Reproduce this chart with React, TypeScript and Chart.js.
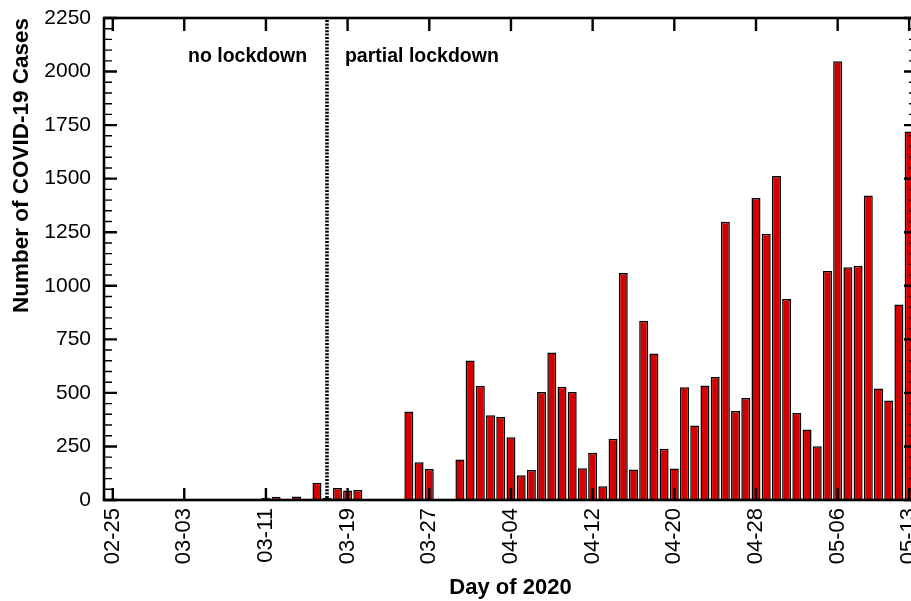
import { useEffect, useRef } from 'react';
import { Chart, registerables } from 'chart.js';

Chart.register(...registerables);

// Daily new COVID-19 cases, one value per day starting 2020-02-25
const startDate = '2020-02-25';
const dailyCases = [
  0, 0, 0, 0, 0, 0, 0, 0, 0, 1,
  0, 4, 0, 0, 2, 11, 15, 0, 16, 0,
  81, 10, 56, 44, 47, 0, 0, 0, 0, 413,
  176, 145, 0, 0, 189, 651, 532, 396, 387, 293,
  115, 140, 504, 688, 529, 504, 148, 220, 64, 286,
  1060, 142, 837, 684, 239, 147, 526, 348, 534, 574,
  1299, 415, 476, 1410, 1243, 1513, 938, 406, 329, 251,
  1069, 2048, 1087, 1094, 1422, 520, 465, 913, 1720,
];

// Day offsets (from the start date) that carry a date label on the x axis
const tickDayIndex = [0, 7, 15, 23, 31, 39, 47, 55, 63, 71, 78];
const tickLabels = ['02-25', '03-03', '03-11', '03-19', '03-27', '04-04', '04-12', '04-20', '04-28', '05-06', '05-13'];

// Phase annotations
const phaseLabels = ['no lockdown', 'partial lockdown'];
const phaseLabelDay = [7.37, 22.74];
const phaseLabelCases = 2046;
const lockdownDay = 21; // 03-17

const yMax = 2250;
const yMajorStep = 250;
const yMinorStep = 50;
const xMin = -0.86;
const xMax = 78.77;

const FONT = '"Liberation Sans", Arial, Helvetica, sans-serif';

function dayLabel(offset: number): string {
  const d = new Date(startDate + 'T00:00:00Z');
  d.setUTCDate(d.getUTCDate() + offset);
  const mm = String(d.getUTCMonth() + 1).padStart(2, '0');
  const dd = String(d.getUTCDate()).padStart(2, '0');
  return `${mm}-${dd}`;
}

function clearScalePadding(scale: any) {
  scale.paddingLeft = 0;
  scale.paddingRight = 0;
  scale.paddingTop = 0;
  scale.paddingBottom = 0;
}

// Draws the boxed frame with inward ticks, the lockdown divider and phase captions
const framePlugin = {
  id: 'boxFrame',
  afterDatasetsDraw(chart: any) {
    const { ctx, chartArea: a, scales } = chart;
    const x = scales.x;
    const y = scales.y;
    ctx.save();
    ctx.strokeStyle = '#000';

    // dotted divider between the two phases
    const lx = Math.round(x.getPixelForValue(lockdownDay));
    ctx.lineWidth = 3.6;
    ctx.lineCap = 'butt';
    ctx.setLineDash([2, 1.4]);
    ctx.beginPath();
    ctx.moveTo(lx, a.top + 2);
    ctx.lineTo(lx, a.bottom);
    ctx.stroke();
    ctx.setLineDash([]);

    // left and right ticks
    for (let v = 0; v <= yMax; v += yMinorStep) {
      const py = y.getPixelForValue(v);
      const major = v % yMajorStep === 0;
      const len = major ? 13 : 8;
      ctx.lineWidth = major ? 2.4 : 1.4;
      ctx.beginPath();
      ctx.moveTo(a.left, py);
      ctx.lineTo(a.left + len, py);
      ctx.moveTo(a.right, py);
      ctx.lineTo(a.right - len, py);
      ctx.stroke();
    }

    // bottom and top ticks
    ctx.lineWidth = 2.4;
    for (const t of tickDayIndex) {
      const px = x.getPixelForValue(t);
      ctx.beginPath();
      ctx.moveTo(px, a.bottom);
      ctx.lineTo(px, a.bottom - 12);
      ctx.moveTo(px, a.top);
      ctx.lineTo(px, a.top + 13);
      ctx.stroke();
    }

    // frame
    ctx.lineWidth = 2.6;
    ctx.strokeRect(a.left, a.top, a.right - a.left, a.bottom - a.top);

    // phase captions
    ctx.fillStyle = '#000';
    ctx.font = `bold 19.5px ${FONT}`;
    ctx.textAlign = 'left';
    ctx.textBaseline = 'alphabetic';
    phaseLabels.forEach((text, i) => {
      ctx.fillText(text, x.getPixelForValue(phaseLabelDay[i]), y.getPixelForValue(phaseLabelCases));
    });
    ctx.restore();
  },
};

export default function App() {
  const canvasRef = useRef<HTMLCanvasElement | null>(null);

  useEffect(() => {
    const canvas = canvasRef.current;
    if (!canvas) return;
    Chart.defaults.font.family = FONT;
    Chart.defaults.color = '#000';

    const points = dailyCases.map((v, i) => ({ x: i, y: v }));

    const chart = new Chart(canvas, {
      type: 'bar',
      data: {
        datasets: [
          {
            label: 'Cases',
            data: points as any,
            backgroundColor: '#d40000',
            borderColor: '#000',
            borderWidth: 1.5,
            borderSkipped: 'start',
            barPercentage: 0.88,
            categoryPercentage: 1,
          },
        ],
      },
      options: {
        animation: false,
        responsive: true,
        maintainAspectRatio: false,
        devicePixelRatio: 1,
        layout: { padding: { left: 0, right: 8, top: 18, bottom: 0 } },
        plugins: {
          legend: { display: false },
          tooltip: { enabled: false },
        },
        scales: {
          x: {
            type: 'linear',
            min: xMin,
            max: xMax,
            offset: false,
            grid: { display: false, drawTicks: false },
            border: { display: false },
            afterBuildTicks: (scale: any) => {
              scale.ticks = tickDayIndex.map((v) => ({ value: v }));
            },
            afterFit: (scale: any) => {
              scale.height = 101;
              clearScalePadding(scale);
            },
            ticks: {
              autoSkip: false,
              minRotation: 90,
              maxRotation: 90,
              padding: 8,
              color: '#000',
              font: { size: 22 },
              callback: (value: any, index: number) => tickLabels[index] ?? dayLabel(Number(value)),
            },
            title: {
              display: true,
              text: 'Day of 2020',
              color: '#000',
              font: { size: 22, weight: 'bold' },
              padding: { top: 0, bottom: 0 },
            },
          },
          y: {
            type: 'linear',
            min: 0,
            max: yMax,
            grid: { display: false, drawTicks: false },
            border: { display: false },
            afterFit: (scale: any) => {
              scale.width = 104;
              clearScalePadding(scale);
            },
            ticks: {
              stepSize: yMajorStep,
              padding: 13,
              color: '#000',
              font: { size: 21 },
              callback: (value: any) => String(value),
            },
            title: {
              display: true,
              text: 'Number of COVID-19 Cases',
              align: 'end',
              color: '#000',
              font: { size: 22.5, weight: 'bold' },
              padding: { top: 8, bottom: 0 },
            },
          },
        },
      },
      plugins: [framePlugin],
    });

    return () => chart.destroy();
  }, []);

  return (
    <div
      style={{
        position: 'fixed',
        left: 0,
        top: 0,
        width: 911,
        height: 601,
        overflow: 'hidden',
        background: '#fff',
      }}
    >
      <div style={{ position: 'relative', width: 925, height: 601 }}>
        <canvas ref={canvasRef} />
      </div>
    </div>
  );
}
